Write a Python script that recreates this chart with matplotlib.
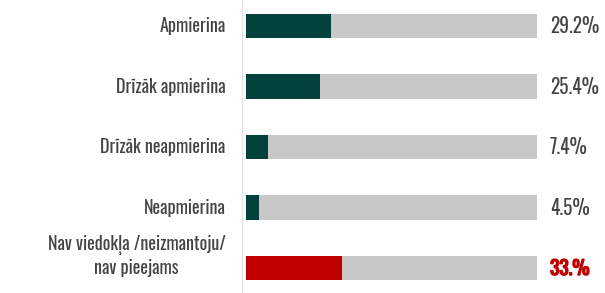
import matplotlib.pyplot as plt
import matplotlib.patheffects as pe

categories = ['Apmierina', 'Drīzāk apmierina', 'Drīzāk neapmierina', 'Neapmierina',
              'Nav viedokļa /neizmantoju/\nnav pieejams']
values = [29.2, 25.4, 7.4, 4.5, 33.0]
value_labels = ['29.2%', '25.4%', '7.4%', '4.5%', '33.%']
bar_colors = ['#00413a', '#00413a', '#00413a', '#00413a', '#c00000']
label_colors = ['#444444', '#444444', '#444444', '#444444', '#c00000']

plt.rcParams['font.family'] = ['Oswald', 'DejaVu Sans']

fig = plt.figure(figsize=(6.05, 2.93), dpi=100)
ax = fig.add_axes([246 / 605, 0, 291 / 605, 1])

y = list(range(len(categories)))
ax.barh(y, [100] * len(y), height=0.4, color='#c8c8c8')
ax.barh(y, values, height=0.4, color=bar_colors)

ax.set_xlim(0, 100)
ax.set_ylim(4 + 25 / 60.5, -26 / 60.5)
ax.set_yticks([])
ax.set_xticks([])
for s in ['top', 'right', 'bottom']:
    ax.spines[s].set_visible(False)
ax.spines['left'].set_color('#e2e2e2')
ax.spines['left'].set_position(('outward', 3))

# category labels, drawn as text so the font size sticks
for i, cat in enumerate(categories):
    yy = i - 0.2 if '\n' in cat else i
    ax.text(-7, yy, cat, ha='right', va='center', fontsize=13, color='#444444',
            multialignment='center', linespacing=1.25, clip_on=False)

for i, (lab, c) in enumerate(zip(value_labels, label_colors)):
    t = ax.text(104.5, i, lab, va='center', ha='left', fontsize=14, color=c)
    if i == 4:
        t.set_path_effects([pe.withStroke(linewidth=1.0, foreground=c)])

fig.savefig('out.png', dpi=100)
